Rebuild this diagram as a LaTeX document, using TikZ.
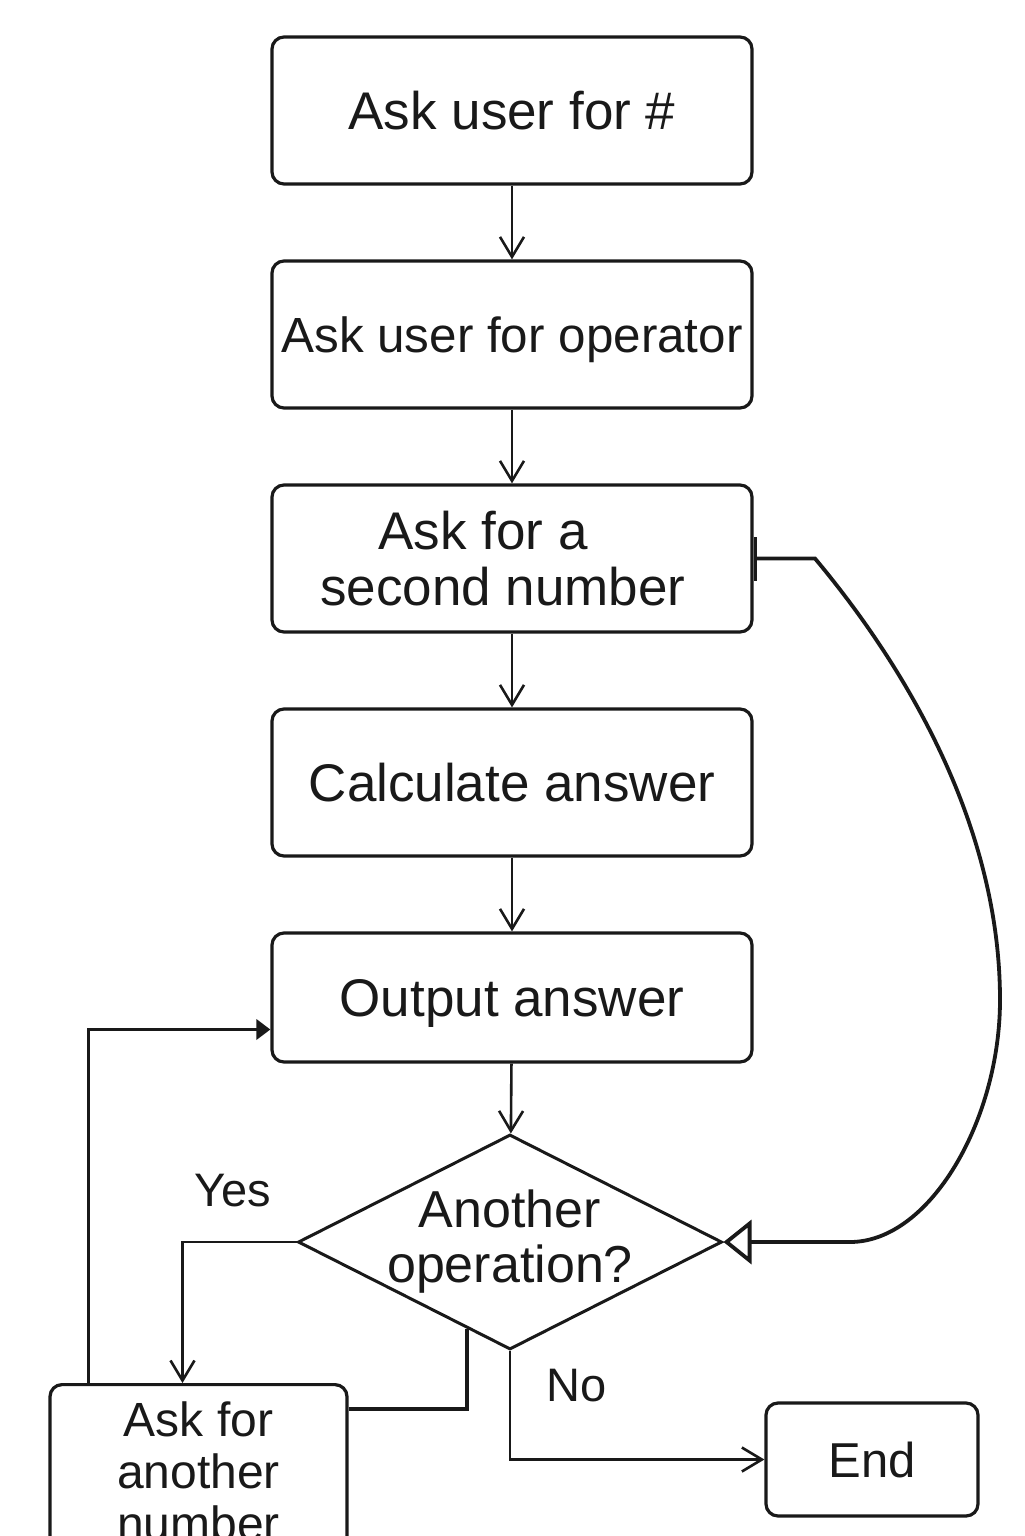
\documentclass[tikz,border=0pt]{standalone}
\usepackage{fontspec}
\setmainfont{Liberation Sans}
\usetikzlibrary{arrows.meta,shapes.geometric,calc}

\tikzset{
  box/.style={draw, line width=1.6pt, rounded corners=6pt, minimum width=240pt,
    minimum height=73.5pt, inner sep=2pt, align=center},
  oneline/.style={text height=19pt, text depth=0pt},
  decision/.style={draw, diamond, line width=1.5pt, minimum width=212pt,
    minimum height=107.5pt, inner sep=0pt},
  arrow/.style={line width=1.3pt, -{Straight Barb[length=10pt,width=12pt]}},
  heavy/.style={line width=1.9pt},
  branch/.style={inner sep=0pt, font=\fontsize{23.5}{26}\selectfont},
}

\begin{document}
\begin{tikzpicture}[x=0.5pt, y=-0.5pt, font=\fontsize{26.5}{28}\selectfont, color=black!90]
		\clip (0,0) rectangle (1024,1536);
		% main column
		\node[box, oneline] (ask) at (512,110.5) {Ask user for \#};
		\node[box, oneline, text height=17.7pt, font=\fontsize{24.7}{27}\selectfont] (oper) at (512,334.5) {Ask user for operator};
		\node[box] (second) at (512,558.5) {Ask for a\hspace*{29pt}\\second number\hspace*{9pt}};
		\node[box, oneline] (calc) at (512,782.5) {Calculate answer};
		\node[box, oneline, minimum height=64.5pt] (out) at (512,997.5) {Output answer};
		\node[decision, label={[align=center, font=\fontsize{26}{27.5}\selectfont]center:{Another\\operation?}}] (dec) at (510,1242) {};
		\node[box, oneline, text height=17.5pt, font=\fontsize{24.5}{27}\selectfont, minimum width=106pt, minimum height=56.5pt] (end) at (872,1459.5) {End};
		\node[box, font=\fontsize{24}{26}\selectfont, minimum width=148.5pt, minimum height=86.5pt, anchor=north] (more) at (198.5,1383) {Ask for\\another\\number};
		\draw[arrow] (ask) -- (oper);
		\draw[arrow] (oper) -- (second);
		\draw[arrow] (second) -- (calc);
		\draw[arrow] (calc) -- (out);
		\draw[arrow] (out) -- (dec);
		% yes / no
		\draw[arrow] (dec.west) -| node[branch, pos=0.25, above=17pt, xshift=-3.5pt]{Yes} ([xshift=-8pt]more.north);
		\draw[arrow] (dec.south) |- node[branch, pos=0.16, right=17.5pt]{No} (end.west);
		% back to the diamond and to output
		\coordinate (edge) at ($(dec.west)!0.8!(dec.south)$);
		\draw[heavy] ([yshift=-13pt]more.north east) -| (edge);
		\draw[heavy, -{Triangle[length=7pt,width=10pt]}] ([xshift=20pt]more.north west) |- ([yshift=-16pt]out.west);
		% loop from second number
		\coordinate (L1) at (815,558.5);
		\coordinate (L2) at (1000,1000);
		\coordinate (L3) at (850,1242);
		\draw[heavy, {Bar[width=22pt]}-{Triangle[open,length=14pt,width=22pt]}] (second.east) -- (L1)
		      .. controls (900,660) and (1000,820) .. (L2)
		      .. controls (1000,1120) and (930,1242) .. (L3) -- (dec.east);
\end{tikzpicture}
\end{document}
